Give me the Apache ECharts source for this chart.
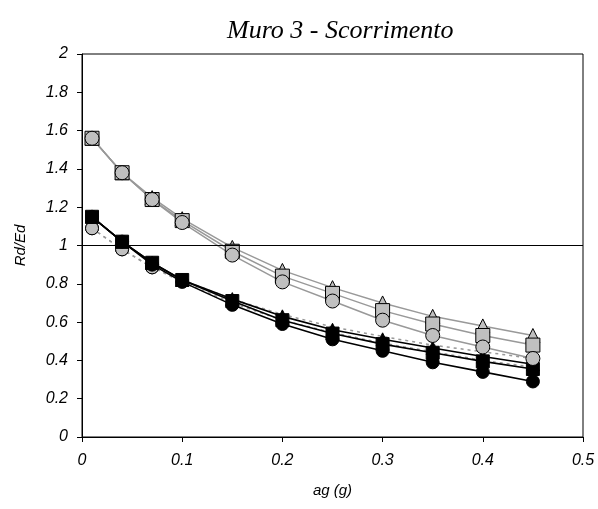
<!DOCTYPE html>
<html lang="it">
<head>
    <meta charset="UTF-8">
    <title>Muro 3 - Scorrimento</title>
    <script src="https://cdn.jsdelivr.net/npm/echarts@6/dist/echarts.min.js"></script>
</head>
<body style="margin:0">
<div id="chart" style="width:598px;height:509px;"></div>
<script type="text/javascript">
    // ag (g)
    var ag = [0.01, 0.04, 0.07, 0.1, 0.15, 0.2, 0.25, 0.3, 0.35, 0.4, 0.45];

    // gruppo grigio (alto)
    var grigioTri = [1.56, 1.38, 1.25, 1.14, 0.99, 0.87, 0.78, 0.70, 0.63, 0.58, 0.53];
    var grigioQuad = [1.56, 1.38, 1.24, 1.13, 0.97, 0.84, 0.75, 0.66, 0.59, 0.53, 0.48];
    var grigioCerc = [1.56, 1.38, 1.24, 1.12, 0.95, 0.81, 0.71, 0.61, 0.53, 0.47, 0.41];

    // gruppo nero (basso)
    var neroTri = [1.15, 1.02, 0.91, 0.82, 0.72, 0.63, 0.56, 0.51, 0.465, 0.42, 0.38];
    var neroQuad = [1.15, 1.02, 0.91, 0.82, 0.71, 0.61, 0.54, 0.485, 0.44, 0.395, 0.355];
    var neroCerc = [1.15, 1.02, 0.90, 0.81, 0.69, 0.59, 0.51, 0.45, 0.39, 0.34, 0.29];

    // linee tratteggiate grigie
    var trattA = [1.09, 0.98, 0.886, 0.82, 0.72, 0.64, 0.575, 0.525, 0.48, 0.445, 0.41];
    var trattB = [1.09, 0.98, 0.886, 0.81, 0.70, 0.61, 0.545, 0.49, 0.445, 0.40, 0.365];

    var yTicks = [0, 0.2, 0.4, 0.6, 0.8, 1, 1.2, 1.4, 1.6, 1.8, 2];

    function coppie(ys) {
        return ag.map(function (x, i) { return [x, ys[i]]; });
    }

    function serie(nome, ys, simbolo, fill, lineCol, lineW, tipo, size) {
        return {
            name: nome,
            type: 'line',
            data: coppie(ys),
            symbol: simbolo,
            symbolSize: size,
            showAllSymbol: true,
            itemStyle: {color: fill, borderColor: '#000', borderWidth: 1},
            lineStyle: {color: lineCol, width: lineW, type: tipo},
            animation: false,
            z: 2
        };
    }

    // i tratteggiati mostrano il marker solo sui primi punti, poi spariscono sotto i neri
    function simboloTratt(val, params) {
        return params.dataIndex < 3 ? 'circle' : 'none';
    }

    var myChart = echarts.init(document.getElementById('chart'));

    var option = {
        animation: false,
        title: {
            text: 'Muro 3 - Scorrimento',
            left: 222,
            top: 13,
            textStyle: {
                fontFamily: 'Liberation Serif',
                fontStyle: 'italic',
                fontWeight: 'normal',
                fontSize: 26,
                color: '#000'
            }
        },
        grid: {
            left: 82, right: 15, top: 54, bottom: 72,
            show: true, borderColor: '#000', borderWidth: 1, backgroundColor: '#fff'
        },
        xAxis: {
            type: 'value',
            min: 0, max: 0.5, interval: 0.1,
            name: 'ag (g)',
            nameLocation: 'middle',
            nameGap: 46,
            nameTextStyle: {fontFamily: 'Liberation Sans', fontStyle: 'italic', fontSize: 15, color: '#000'},
            axisLine: {lineStyle: {color: '#000', width: 1}},
            axisTick: {show: true, inside: false, length: 5, lineStyle: {color: '#000'}},
            axisLabel: {fontFamily: 'Liberation Sans', fontStyle: 'italic', fontSize: 16, color: '#000', margin: 16},
            splitLine: {show: false}
        },
        yAxis: {
            type: 'value',
            min: 0, max: 2, interval: 0.2,
            name: 'Rd/Ed',
            nameLocation: 'middle',
            nameGap: 54,
            nameTextStyle: {fontFamily: 'Liberation Sans', fontStyle: 'italic', fontSize: 15, color: '#000'},
            axisLine: {lineStyle: {color: '#000', width: 1}},
            axisTick: {show: true, inside: false, length: 5, lineStyle: {color: '#000'}},
            axisLabel: {
                fontFamily: 'Liberation Sans', fontStyle: 'italic', fontSize: 16, color: '#000', margin: 14,
                formatter: function (v) {
                    var t = yTicks.filter(function (k) { return Math.abs(k - v) < 1e-6; });
                    return t.length ? String(t[0]) : '';
                }
            },
            splitLine: {show: false}
        },
        series: [
            serie('tratt A', trattA, simboloTratt, '#c0c0c0', '#999', 1.5, [3, 4], 13),
            serie('tratt B', trattB, simboloTratt, '#c0c0c0', '#999', 1.5, [3, 4], 13),
            serie('nero cerchio', neroCerc, 'circle', '#000', '#000', 1.6, 'solid', 13),
            serie('nero quadrato', neroQuad, 'rect', '#000', '#000', 1.6, 'solid', 13),
            serie('nero triangolo', neroTri, 'triangle', '#000', '#000', 1.6, 'solid', 13),
            serie('grigio triangolo', grigioTri, 'triangle', '#c0c0c0', '#999', 1.5, 'solid', 14),
            serie('grigio quadrato', grigioQuad, 'rect', '#c0c0c0', '#999', 1.5, 'solid', 14),
            serie('grigio cerchio', grigioCerc, 'circle', '#c0c0c0', '#999', 1.5, 'solid', 14),
            {
                name: 'unita',
                type: 'line',
                data: [],
                markLine: {
                    silent: true,
                    symbol: 'none',
                    label: {show: false},
                    lineStyle: {color: '#000', width: 1, type: 'solid'},
                    data: [{yAxis: 1}]
                }
            }
        ]
    };

    myChart.setOption(option);
</script>
</body>
</html>
